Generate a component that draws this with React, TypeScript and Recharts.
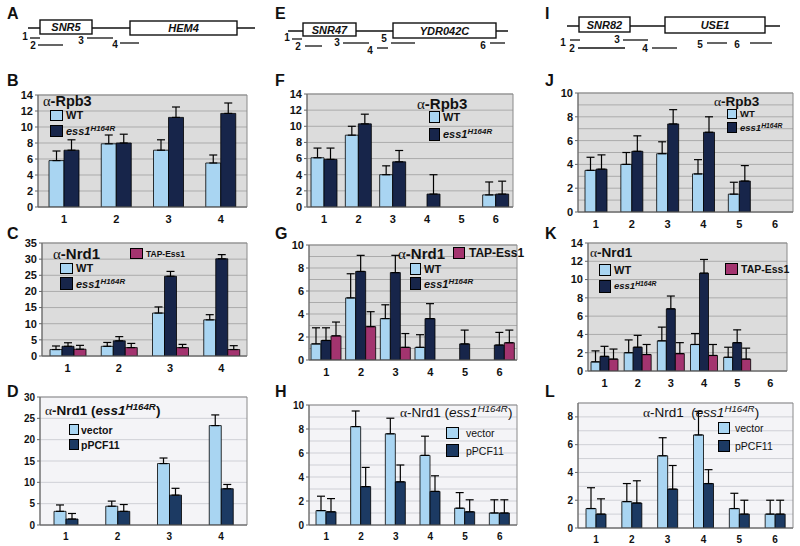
import React from 'react';
import { BarChart, Bar, XAxis, YAxis, CartesianGrid, ErrorBar, ReferenceArea } from 'recharts';

// probe regions
const probes4 = ['1', '2', '3', '4'];
const probes6 = ['1', '2', '3', '4', '5', '6'];

// SNR5 / HEM4
const bWt = [5.8, 7.9, 7.1, 5.5];
const bWtErr = [1.2, 1.1, 1.3, 1.0];
const bMut = [7.1, 8.0, 11.2, 11.7];
const bMutErr = [1.3, 1.1, 1.3, 1.3];

const cWt = [2.0, 3.0, 13.3, 11.2];
const cWtErr = [1.1, 1.2, 1.9, 1.6];
const cMut = [3.0, 4.7, 24.7, 30.1];
const cMutErr = [1.1, 1.3, 1.5, 1.3];
const cTap = [2.1, 2.6, 2.6, 2.0];
const cTapErr = [1.2, 1.3, 1.0, 1.2];

const dVec = [3.2, 4.4, 14.4, 23.3];
const dVecErr = [1.5, 1.2, 1.3, 2.5];
const dPcf = [1.4, 3.2, 7.0, 8.5];
const dPcfErr = [1.3, 1.6, 1.6, 1.0];

// SNR47 / YDR042C
const fWt = [6.1, 8.9, 4.0, 0, 0, 1.5];
const fWtErr = [1.2, 1.1, 1.1, null, null, 1.6];
const fMut = [5.9, 10.3, 5.6, 1.6, 0, 1.6];
const fMutErr = [1.4, 1.2, 1.4, 2.4, null, 1.6];

const gWt = [1.4, 5.4, 3.6, 1.1, 0, 0];
const gWtErr = [1.4, 2.1, 1.2, 1.1, null, null];
const gMut = [1.7, 7.7, 7.6, 3.6, 1.4, 1.3];
const gMutErr = [1.1, 1.4, 1.5, 1.3, 1.2, 1.1];
const gTap = [2.1, 2.9, 1.1, 0, 0, 1.5];
const gTapErr = [1.2, 1.3, 1.2, null, null, 1.1];

const hVec = [1.2, 8.2, 7.6, 5.8, 1.4, 1.0];
const hVecErr = [1.2, 1.3, 1.3, 1.6, 1.3, 1.1];
const hPcf = [1.1, 3.2, 3.6, 2.8, 1.1, 1.0];
const hPcfErr = [1.1, 1.6, 1.4, 1.3, 1.0, 1.1];

// SNR82 / USE1
const jWt = [3.5, 4.0, 4.9, 3.2, 1.5, 0];
const jWtErr = [1.1, 1.0, 1.0, 1.2, 1.0, null];
const jMut = [3.6, 5.1, 7.4, 6.7, 2.6, 0];
const jMutErr = [1.2, 1.3, 1.2, 1.3, 1.3, null];

const kWt = [1.0, 2.0, 3.3, 2.9, 1.5, 0];
const kWtErr = [1.2, 1.4, 1.5, 1.2, 1.1, null];
const kMut = [1.6, 2.6, 6.8, 10.7, 3.1, 0];
const kMutErr = [1.1, 1.3, 1.4, 1.5, 1.4, null];
const kTap = [1.3, 1.8, 1.9, 1.7, 1.3, 0];
const kTapErr = [1.1, 1.1, 1.2, 1.2, 1.2, null];

const lVec = [1.4, 1.9, 5.2, 6.7, 1.4, 1.0];
const lVecErr = [1.5, 1.3, 1.3, 1.7, 1.1, 1.0];
const lPcf = [1.0, 1.8, 2.8, 3.2, 1.0, 1.0];
const lPcfErr = [1.1, 1.6, 1.7, 1.0, 1.0, 1.0];

// y axis ticks and grid lines
const ticks14 = [0, 2, 4, 6, 8, 10, 12, 14];
const ticks35 = [0, 5, 10, 15, 20, 25, 30, 35];
const ticks30 = [0, 5, 10, 15, 20, 25, 30];
const ticks10 = [0, 2, 4, 6, 8, 10];
const ticks8 = [0, 2, 4, 6, 8];
const grid10 = [0, 1, 2, 3, 4, 5, 6, 7, 8, 9, 10];
const grid9 = [0, 1, 2, 3, 4, 5, 6, 7, 8, 9];

const WT = '#a9d5f2';
const MUT = '#17254a';
const TAP = '#a3346f';
const PCF = '#1c3a63';
const GRAY_BG = '#dcdcdc';
const GRAY_GRID = '#ababab';
const LIGHT_BG = '#f4f4f7';
const LIGHT_GRID = '#cfd0d6';

const sans = '"Liberation Sans", Arial, Helvetica, sans-serif';
const serif = '"Liberation Serif", "Times New Roman", serif';
const YW = 30;

type Series = { values: number[]; errs: (number | null)[]; color: string };

function Panel(props: {
  pl: number; pr: number; pt: number; pb: number;
  cats: string[]; series: Series[]; max: number; ticks: number[]; grid: number[];
  bg: string; gridStroke: string; barSize: number; fs?: number;
}) {
  const { pl, pr, pt, pb, cats, series, max, ticks, grid, bg, gridStroke, barSize } = props;
  const fs = props.fs || 11;
  const data = cats.map((c, i) => {
    const row: any = { cat: c };
    series.forEach((s, k) => {
      row['v' + k] = s.values[i];
      row['e' + k] = s.errs[i] == null ? null : [0, s.errs[i]];
    });
    return row;
  });
  const tickStyle = { fontSize: fs, fontWeight: 'bold', fill: '#111', fontFamily: sans };
  return (
    <div style={{ position: 'absolute', left: pl - YW, top: pt - 5 }}>
      <BarChart
        width={pr - pl + YW + 5}
        height={pb - pt + 30}
        data={data}
        margin={{ top: 5, right: 5, bottom: 5, left: 0 }}
        barGap={0}
        barSize={barSize}
      >
        <CartesianGrid fill={bg} fillOpacity={1} stroke={gridStroke} vertical={false} horizontalValues={grid} />
        <XAxis dataKey="cat" height={20} tickLine={false} axisLine={{ stroke: '#666' }} tick={tickStyle} interval={0} />
        <YAxis
          width={YW}
          domain={[0, max]}
          ticks={ticks}
          interval={0}
          allowDataOverflow
          tick={tickStyle}
          tickSize={3}
          axisLine={{ stroke: '#666' }}
          tickLine={{ stroke: '#666' }}
        />
        <ReferenceArea y1={0} y2={max} fill="none" stroke="#8a8a8a" ifOverflow="visible" />
        {series.map((s, k) => (
          <Bar key={k} dataKey={'v' + k} fill={s.color} stroke="#000" strokeWidth={0.8} isAnimationActive={false}>
            <ErrorBar dataKey={'e' + k} width={4} stroke="#000" strokeWidth={1.2} direction="y" />
          </Bar>
        ))}
      </BarChart>
    </div>
  );
}

function Txt({ x, cy, size, children, bold = true, italic = false, family = sans }: any) {
  return (
    <div
      style={{
        position: 'absolute', left: x, top: cy - size * 0.5, fontSize: size, lineHeight: `${size}px`,
        fontWeight: bold ? 'bold' : 'normal', fontStyle: italic ? 'italic' : 'normal', fontFamily: family,
        color: '#111', whiteSpace: 'nowrap',
      }}
    >
      {children}
    </div>
  );
}

function Sw({ x, y, w, h, color }: any) {
  return (
    <div style={{ position: 'absolute', left: x, top: y, width: w - 2, height: h - 2, background: color, border: '1px solid #000' }} />
  );
}

const Alpha = () => <span style={{ fontFamily: serif, fontWeight: 'normal' }}>α</span>;
const Ess1 = () => (
  <span style={{ fontStyle: 'italic' }}>
    ess1<span style={{ fontSize: '0.72em', position: 'relative', top: '-0.5em' }}>H164R</span>
  </span>
);

function Letter({ x, cy, children }: any) {
  return <Txt x={x} cy={cy} size={16}>{children}</Txt>;
}

type Box = { x1: number; x2: number; y1: number; y2: number; name: string };
type Probe = { n: string; lx: number; ly: number; x1: number; x2: number; y: number };

function Gene({ base, boxes, probes }: { base: number[]; boxes: Box[]; probes: Probe[] }) {
  return (
    <svg style={{ position: 'absolute', left: 0, top: 0 }} width={800} height={70}>
      <line x1={base[0]} x2={base[1]} y1={base[2]} y2={base[2]} stroke="#111" strokeWidth={1.3} />
      {boxes.map((b) => (
        <g key={b.name}>
          <rect x={b.x1} y={b.y1} width={b.x2 - b.x1} height={b.y2 - b.y1} fill="#fff" stroke="#111" strokeWidth={1.4} />
          <text x={(b.x1 + b.x2) / 2} y={(b.y1 + b.y2) / 2 + 4} textAnchor="middle" fontFamily={sans} fontSize={11}
            fontWeight="bold" fontStyle="italic" fill="#111">{b.name}</text>
        </g>
      ))}
      {probes.map((p) => (
        <g key={p.n}>
          <line x1={p.x1} x2={p.x2} y1={p.y} y2={p.y} stroke="#111" strokeWidth={1.3} />
          <text x={p.lx} y={p.ly + 4} textAnchor="middle" fontFamily={sans} fontSize={10} fontWeight="bold" fill="#111">{p.n}</text>
        </g>
      ))}
    </svg>
  );
}

export default function App() {
  return (
    <div style={{ position: 'absolute', left: 0, top: 0, width: 800, height: 546, background: '#fff', overflow: 'hidden' }}>
      <Gene
        base={[28, 255, 28]}
        boxes={[{ x1: 40, x2: 92, y1: 20, y2: 34, name: 'SNR5' }, { x1: 130, x2: 237, y1: 21, y2: 35, name: 'HEM4' }]}
        probes={[
          { n: '1', lx: 25, ly: 36, x1: 30, x2: 40, y: 38 },
          { n: '2', lx: 33, ly: 45, x1: 38, x2: 63, y: 45 },
          { n: '3', lx: 81, ly: 40, x1: 87, x2: 113, y: 38 },
          { n: '4', lx: 115, ly: 44, x1: 120, x2: 139, y: 43 },
        ]}
      />
      <Gene
        base={[288, 508, 31]}
        boxes={[{ x1: 303, x2: 356, y1: 23, y2: 36, name: 'SNR47' }, { x1: 393, x2: 496, y1: 23, y2: 38, name: 'YDR042C' }]}
        probes={[
          { n: '1', lx: 287, ly: 37, x1: 292, x2: 302, y: 39 },
          { n: '2', lx: 298, ly: 46, x1: 305, x2: 322, y: 46 },
          { n: '3', lx: 337, ly: 42, x1: 343, x2: 369, y: 43 },
          { n: '4', lx: 370, ly: 50, x1: 377, x2: 388, y: 48 },
          { n: '5', lx: 384, ly: 38, x1: 391, x2: 415, y: 43 },
          { n: '6', lx: 483, ly: 45, x1: 490, x2: 505, y: 43 },
        ]}
      />
      <Gene
        base={[567, 780, 26]}
        boxes={[{ x1: 579, x2: 630, y1: 17, y2: 32, name: 'SNR82' }, { x1: 665, x2: 765, y1: 17, y2: 33, name: 'USE1' }]}
        probes={[
          { n: '1', lx: 563, ly: 42, x1: 570, x2: 580, y: 40 },
          { n: '2', lx: 572, ly: 48, x1: 578, x2: 625, y: 48 },
          { n: '3', lx: 617, ly: 39, x1: 623, x2: 648, y: 40 },
          { n: '4', lx: 645, ly: 48, x1: 652, x2: 677, y: 48 },
          { n: '5', lx: 700, ly: 44, x1: 707, x2: 727, y: 43 },
          { n: '6', lx: 737, ly: 44, x1: 750, x2: 772, y: 43 },
        ]}
      />

      {/* column 1 */}
      <Panel pl={38} pr={247} pt={95} pb={207} cats={probes4} max={14} ticks={ticks14} grid={ticks14}
        bg={GRAY_BG} gridStroke={GRAY_GRID} barSize={15}
        series={[{ values: bWt, errs: bWtErr, color: WT }, { values: bMut, errs: bMutErr, color: MUT }]} />
      <Panel pl={42} pr={247} pt={243} pb={356} cats={probes4} max={35} ticks={ticks35} grid={ticks35}
        bg={GRAY_BG} gridStroke={GRAY_GRID} barSize={12}
        series={[{ values: cWt, errs: cWtErr, color: WT }, { values: cMut, errs: cMutErr, color: MUT }, { values: cTap, errs: cTapErr, color: TAP }]} />
      <Panel pl={40} pr={247} pt={397} pb={525} cats={probes4} max={30} ticks={ticks30} grid={ticks30}
        bg={LIGHT_BG} gridStroke={LIGHT_GRID} barSize={12} fs={10}
        series={[{ values: dVec, errs: dVecErr, color: WT }, { values: dPcf, errs: dPcfErr, color: PCF }]} />

      {/* column 2 */}
      <Panel pl={307} pr={513} pt={94} pb={207} cats={probes6} max={14} ticks={ticks14} grid={ticks14}
        bg={GRAY_BG} gridStroke={GRAY_GRID} barSize={13}
        series={[{ values: fWt, errs: fWtErr, color: WT }, { values: fMut, errs: fMutErr, color: MUT }]} />
      <Panel pl={309} pr={517} pt={245} pb={360} cats={probes6} max={10} ticks={ticks10} grid={grid10}
        bg={GRAY_BG} gridStroke={GRAY_GRID} barSize={10}
        series={[{ values: gWt, errs: gWtErr, color: WT }, { values: gMut, errs: gMutErr, color: MUT }, { values: gTap, errs: gTapErr, color: TAP }]} />
      <Panel pl={309} pr={517} pt={405} pb={525} cats={probes6} max={10} ticks={ticks10} grid={grid10}
        bg={LIGHT_BG} gridStroke={LIGHT_GRID} barSize={10} fs={10}
        series={[{ values: hVec, errs: hVecErr, color: WT }, { values: hPcf, errs: hPcfErr, color: PCF }]} />

      {/* column 3 */}
      <Panel pl={578} pr={793} pt={93} pb={212} cats={probes6} max={10} ticks={ticks10} grid={grid10}
        bg={GRAY_BG} gridStroke={GRAY_GRID} barSize={11}
        series={[{ values: jWt, errs: jWtErr, color: WT }, { values: jMut, errs: jMutErr, color: MUT }]} />
      <Panel pl={588} pr={787} pt={243} pb={371} cats={probes6} max={14} ticks={ticks14} grid={ticks14}
        bg={GRAY_BG} gridStroke={GRAY_GRID} barSize={9}
        series={[{ values: kWt, errs: kWtErr, color: WT }, { values: kMut, errs: kMutErr, color: MUT }, { values: kTap, errs: kTapErr, color: TAP }]} />
      <Panel pl={578} pr={793} pt={403} pb={528} cats={probes6} max={9} ticks={ticks8} grid={grid9}
        bg={LIGHT_BG} gridStroke={LIGHT_GRID} barSize={10} fs={10}
        series={[{ values: lVec, errs: lVecErr, color: WT }, { values: lPcf, errs: lPcfErr, color: PCF }]} />

      {/* panel letters */}
      <Letter x={7} cy={14}>A</Letter>
      <Letter x={7} cy={81}>B</Letter>
      <Letter x={7} cy={234}>C</Letter>
      <Letter x={7} cy={392}>D</Letter>
      <Letter x={275} cy={14}>E</Letter>
      <Letter x={275} cy={81}>F</Letter>
      <Letter x={275} cy={234}>G</Letter>
      <Letter x={275} cy={392}>H</Letter>
      <Letter x={545} cy={14}>I</Letter>
      <Letter x={545} cy={81}>J</Letter>
      <Letter x={545} cy={234}>K</Letter>
      <Letter x={545} cy={392}>L</Letter>

      {/* B legend */}
      <Txt x={43} cy={101.5} size={14.5}><Alpha />-Rpb3</Txt>
      <Sw x={50} y={110} w={13} h={11} color={WT} />
      <Txt x={66} cy={115.5} size={11}>WT</Txt>
      <Sw x={50} y={125} w={13} h={12} color={MUT} />
      <Txt x={66} cy={131} size={11}><Ess1 /></Txt>

      {/* C legend */}
      <Txt x={53} cy={253} size={15}><Alpha />-Nrd1</Txt>
      <Sw x={130} y={248} w={13} h={11} color={TAP} />
      <Txt x={146} cy={254} size={8.5}>TAP-Ess1</Txt>
      <Sw x={60} y={263} w={13} h={11} color={WT} />
      <Txt x={76} cy={268.5} size={11}>WT</Txt>
      <Sw x={60} y={277} w={13} h={13} color={MUT} />
      <Txt x={76} cy={284} size={11}><Ess1 /></Txt>

      {/* D legend */}
      <Txt x={45} cy={411} size={13.5}><Alpha />-Nrd1 (<Ess1 />)</Txt>
      <Sw x={69} y={424} w={10} h={11} color={WT} />
      <Txt x={81} cy={430} size={10.5}>vector</Txt>
      <Sw x={69} y={439} w={10} h={11} color={PCF} />
      <Txt x={81} cy={445} size={10.5}>pPCF11</Txt>

      {/* F legend */}
      <Txt x={417} cy={103} size={15}><Alpha />-Rpb3</Txt>
      <Sw x={429} y={111} w={11} h={12} color={WT} />
      <Txt x={443} cy={117.5} size={11}>WT</Txt>
      <Sw x={429} y={128} w={11} h={13} color={MUT} />
      <Txt x={443} cy={134} size={11}><Ess1 /></Txt>

      {/* G legend */}
      <Txt x={398} cy={253} size={15}><Alpha />-Nrd1</Txt>
      <Sw x={453} y={247} w={12} h={12} color={TAP} />
      <Txt x={469} cy={253} size={12}>TAP-Ess1</Txt>
      <Sw x={410} y={263} w={11} h={12} color={WT} />
      <Txt x={424} cy={269} size={11}>WT</Txt>
      <Sw x={410} y={277} w={11} h={13} color={MUT} />
      <Txt x={424} cy={284} size={11}><Ess1 /></Txt>

      {/* H legend */}
      <Txt x={400} cy={413} size={13.5} bold={false}><Alpha />-Nrd1 (<Ess1 />)</Txt>
      <Sw x={446} y={427} w={13} h={12} color={WT} />
      <Txt x={466} cy={433} size={10.5} bold={false}>vector</Txt>
      <Sw x={446} y={444} w={13} h={13} color={PCF} />
      <Txt x={466} cy={451} size={10.5} bold={false}>pPCF11</Txt>

      {/* J legend */}
      <Txt x={714} cy={102} size={13.5}><Alpha />-Rpb3</Txt>
      <Sw x={727} y={109} w={10} h={10} color={WT} />
      <Txt x={740} cy={114} size={9.5}>WT</Txt>
      <Sw x={727} y={122} w={10} h={11} color={MUT} />
      <Txt x={740} cy={128} size={9.5}><Ess1 /></Txt>

      {/* K legend */}
      <Txt x={590} cy={253} size={13.5}><Alpha />-Nrd1</Txt>
      <Sw x={599} y={264} w={12} h={12} color={WT} />
      <Txt x={614} cy={270} size={11}>WT</Txt>
      <Sw x={599} y={280} w={12} h={13} color={MUT} />
      <Txt x={614} cy={286} size={9.5}><Ess1 /></Txt>
      <Sw x={725} y={263} w={13} h={12} color={TAP} />
      <Txt x={741} cy={269} size={10.5}>TAP-Ess1</Txt>

      {/* L legend */}
      <Txt x={643} cy={413} size={13.5} bold={false}><Alpha />-Nrd1 {'\u00a0'}(<Ess1 />)</Txt>
      <Sw x={718} y={422} w={12} h={12} color={WT} />
      <Txt x={735} cy={428} size={10.5} bold={false}>vector</Txt>
      <Sw x={718} y={440} w={12} h={12} color={PCF} />
      <Txt x={735} cy={446} size={10.5} bold={false}>pPCF11</Txt>
    </div>
  );
}
